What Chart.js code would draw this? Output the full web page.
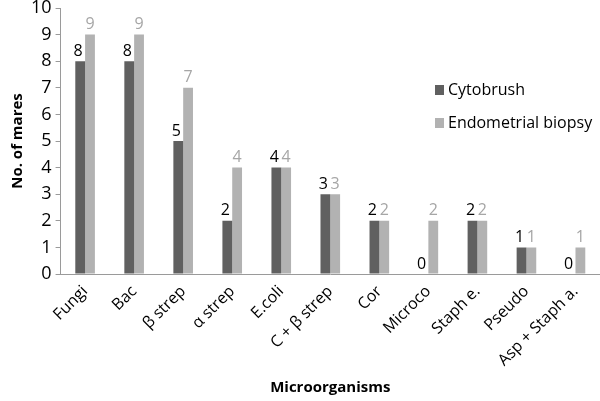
<!DOCTYPE html>
<html>
<head>
<meta charset="utf-8">
<script src="https://cdn.jsdelivr.net/npm/chart.js@4.4.0/dist/chart.umd.min.js"></script>
<style>
  html, body { margin: 0; padding: 0; background: #fff; }
  #wrap { width: 600px; height: 401px; position: relative; }
</style>
</head>
<body>
<div id="wrap"><canvas id="mares"></canvas></div>
<script>
// Chart data
const categories = ['Fungi', 'Bac', 'β strep', 'α strep', 'E.coli', 'C + β strep', 'Cor', 'Microco', 'Staph e.', 'Pseudo', 'Asp + Staph a.'];
const cytobrush = [8, 8, 5, 2, 4, 3, 2, 0, 2, 1, 0];
const biopsy = [9, 9, 7, 4, 4, 3, 2, 2, 2, 1, 1];
const yTicks = [0, 1, 2, 3, 4, 5, 6, 7, 8, 9, 10];

const DARK = '#606060';
const LIGHT = '#b2b2b2';
const FONT = "'Open Sans', 'Noto Sans', sans-serif";

// value labels above each bar
const valueLabels = {
  id: 'valueLabels',
  afterDatasetsDraw(chart) {
    const ctx = chart.ctx;
    ctx.save();
    ctx.font = '16px ' + FONT;
    ctx.textAlign = 'center';
    ctx.textBaseline = 'bottom';
    chart.data.datasets.forEach((ds, i) => {
      const meta = chart.getDatasetMeta(i);
      ctx.fillStyle = i === 0 ? '#000' : '#a6a6a6';
      meta.data.forEach((bar, j) => {
        const off = i === 0 ? -2 : 0;
        ctx.fillText(String(ds.data[j]), bar.x + off, bar.y - 2);
      });
    });
    ctx.restore();
  }
};

// legend on the right side
const sideLegend = {
  id: 'sideLegend',
  afterDraw(chart) {
    const ctx = chart.ctx;
    const items = [['Cytobrush', DARK], ['Endometrial biopsy', LIGHT]];
    ctx.save();
    ctx.font = '16px ' + FONT;
    ctx.textBaseline = 'middle';
    items.forEach((it, k) => {
      const y = 90 + k * 33;
      ctx.fillStyle = it[1];
      ctx.fillRect(435, y - 5, 9, 10);
      ctx.fillStyle = '#000';
      ctx.fillText(it[0], 448, y);
    });
    ctx.restore();
  }
};

new Chart(document.getElementById('mares'), {
  type: 'bar',
  data: {
    labels: categories,
    datasets: [{
      label: 'Cytobrush',
      data: cytobrush,
      backgroundColor: DARK,
      categoryPercentage: 0.4,
      barPercentage: 1.0
    }, {
      label: 'Endometrial biopsy',
      data: biopsy,
      backgroundColor: LIGHT,
      categoryPercentage: 0.4,
      barPercentage: 1.0
    }]
  },
  options: {
    responsive: true,
    maintainAspectRatio: false,
    animation: false,
    layout: { padding: { top: 8, right: 0, left: 9, bottom: 4 } },
    plugins: {
      legend: { display: false },
      tooltip: { enabled: false }
    },
    scales: {
      x: {
        afterFit(scale) {
          scale.height = 123;
        },
        grid: { display: false, drawTicks: false },
        border: { color: '#9a9a9a' },
        ticks: {
          color: '#000',
          font: { family: FONT, size: 16 },
          minRotation: 45,
          maxRotation: 45,
          padding: 8
        },
        title: {
          display: true,
          text: 'Microorganisms',
          color: '#000',
          font: { family: FONT, size: 15, weight: 'bold' },
          padding: { top: 6, bottom: 0 }
        }
      },
      y: {
        min: 0,
        max: 10,
        afterBuildTicks(axis) {
          axis.ticks = yTicks.map(v => ({ value: v }));
        },
        afterFit(scale) {
          scale.paddingTop = 0;
        },
        grid: { display: true, drawOnChartArea: false, drawTicks: true, tickLength: 5, color: '#9a9a9a' },
        border: { color: '#9a9a9a' },
        ticks: {
          color: '#000',
          font: { family: FONT, size: 18 },
          padding: 4
        },
        title: {
          display: true,
          text: 'No. of mares',
          color: '#000',
          font: { family: FONT, size: 15, weight: 'bold' },
          padding: { top: 0, bottom: 0 }
        }
      }
    }
  },
  plugins: [valueLabels, sideLegend]
});
</script>
</body>
</html>
